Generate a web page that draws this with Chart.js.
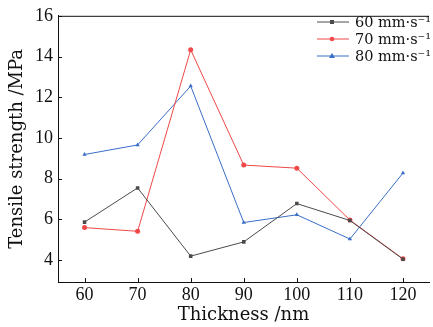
<!DOCTYPE html>
<html>
<head>
<meta charset="utf-8">
<script src="https://cdn.jsdelivr.net/npm/chart.js@4"></script>
<style>
  html, body { margin: 0; padding: 0; background: #ffffff; overflow: hidden; }
  #wrap { position: relative; width: 433px; height: 327px; }
  #legend { position: absolute; left: 317px; top: 13px; font-family: "DejaVu Serif", serif; font-size: 14.5px; color: #111; }
  .row { display: flex; align-items: center; height: 17px; }
  .row svg { margin-right: 6px; }
</style>
</head>
<body>
<div id="wrap">
  <canvas id="c" width="433" height="327"></canvas>
  <div id="legend"></div>
</div>
<script>
// ---- data ----
const thickness = [60, 70, 80, 90, 100, 110, 120];
const speed60 = [5.87, 7.55, 4.20, 4.90, 6.78, 5.95, 4.05];
const speed70 = [5.60, 5.42, 14.33, 8.67, 8.52, 5.97, 4.07];
const speed80 = [9.19, 9.66, 12.55, 5.85, 6.23, 5.04, 8.28];
const seriesNames = ["60 mm·s⁻¹", "70 mm·s⁻¹", "80 mm·s⁻¹"];
const xTicks = [60, 70, 80, 90, 100, 110, 120];
const yTicks = [4, 6, 8, 10, 12, 14, 16];

const colors = ["#4a4a4a", "#f04848", "#3a6ec6"];
const shapes = ["rect", "circle", "triangle"];
const values = [speed60, speed70, speed80];

const datasets = values.map((arr, i) => ({
  label: seriesNames[i],
  data: thickness.map((t, j) => ({ x: t, y: arr[j] })),
  borderColor: colors[i],
  backgroundColor: colors[i],
  borderWidth: 1,
  pointStyle: shapes[i],
  pointRadius: 2.5,
  pointBorderWidth: 0,
  tension: 0
}));

const innerTicks = {
  id: "innerTicks",
  afterDraw(chart) {
    const ctx = chart.ctx, a = chart.chartArea;
    ctx.save();
    ctx.strokeStyle = "#111";
    ctx.lineWidth = 1;
    ctx.beginPath();
    // top frame
    ctx.moveTo(a.left, a.top + 0.5);
    ctx.lineTo(a.right, a.top + 0.5);
    const xs = chart.scales.x, ys = chart.scales.y;
    xs.ticks.forEach(t => {
      const px = Math.round(xs.getPixelForValue(t.value)) + 0.5;
      ctx.moveTo(px, a.bottom);
      ctx.lineTo(px, a.bottom - 4);
    });
    ys.ticks.forEach(t => {
      const py = Math.round(ys.getPixelForValue(t.value)) + 0.5;
      ctx.moveTo(a.left, py);
      ctx.lineTo(a.left + 4, py);
    });
    ctx.stroke();
    ctx.restore();
  }
};

Chart.defaults.font.family = '"Liberation Serif", serif';
Chart.defaults.color = "#111";

new Chart(document.getElementById("c"), {
  type: "line",
  data: { datasets },
  plugins: [innerTicks],
  options: {
    responsive: false,
    animation: false,
    layout: { padding: { top: 13, right: 0, left: 0, bottom: 0 } },
    plugins: { legend: { display: false }, tooltip: { enabled: false } },
    scales: {
      x: {
        type: "linear",
        min: 55, max: 124.9,
        afterBuildTicks: s => { s.ticks = xTicks.map(v => ({ value: v })); },
        afterFit: s => { s.height = 45; },
        grid: { display: false, drawTicks: false },
        border: { display: true, color: "#111", width: 1 },
        ticks: { font: { size: 18 }, padding: 2, maxRotation: 0, color: "#111" },
        title: { display: true, text: "Thickness /nm", font: { family: '"DejaVu Serif", serif', size: 18 }, padding: { top: 0, bottom: 1 }, color: "#111" }
      },
      y: {
        min: 2.93, max: 16,
        afterBuildTicks: s => { s.ticks = yTicks.map(v => ({ value: v })); },
        afterFit: s => { s.width = 58; },
        grid: { display: false, drawTicks: false },
        border: { display: true, color: "#111", width: 1 },
        ticks: { font: { size: 18 }, padding: 5, color: "#111" },
        title: { display: true, text: "Tensile strength /MPa", font: { family: '"DejaVu Serif", serif', size: 18 }, padding: { top: 7, bottom: 0 }, color: "#111" }
      }
    }
  }
});

// HTML legend
const leg = document.getElementById("legend");
seriesNames.forEach((name, i) => {
  const row = document.createElement("div");
  row.className = "row";
  let marker;
  if (shapes[i] === "rect") marker = `<rect x="13" y="6" width="4" height="4" fill="${colors[i]}"/>`;
  else if (shapes[i] === "circle") marker = `<circle cx="15" cy="8" r="2.3" fill="${colors[i]}"/>`;
  else marker = `<polygon points="15,5 18,10 12,10" fill="${colors[i]}"/>`;
  row.innerHTML = `<svg width="32" height="16"><line x1="0" y1="8" x2="32" y2="8" stroke="${colors[i]}" stroke-width="1"/>${marker}</svg><span>${name}</span>`;
  leg.appendChild(row);
});
</script>
</body>
</html>
